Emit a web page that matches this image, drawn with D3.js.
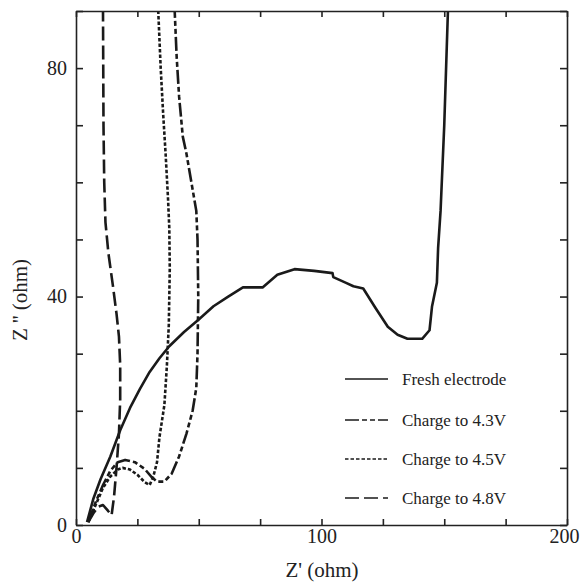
<!DOCTYPE html>
<html>
<head>
<meta charset="utf-8">
<script src="https://cdn.jsdelivr.net/npm/d3@7"></script>
</head>
<body style="margin:0;background:#fff">
<div id="chart"></div>
<script>
// dati: [Z', Z'']
var fresh = [[4.5,0.5],[7,4.5],[10,8],[14,12],[18,16.6],[22,20.5],[26,23.8],[30,26.8],[34,29.2],[38,31.3],[44,33.8],[50,36],[56,38.3],[62,40],[68,41.6],[76,41.6],[82,43.8],[89,44.8],[97,44.5],[104.5,44.1],[104.8,43.4],[110,42.4],[113,41.8],[117,41.4],[122,38],[127,34.7],[131,33.3],[135,32.6],[141,32.6],[144,34.1],[145,38.2],[147,42.4],[147.5,48.5],[148.5,55],[150,70],[151.5,90]];
var v43 = [[5,0.5],[8,4],[11,7],[14,9.5],[17,11],[20,11.4],[24,11],[28,9.8],[31,8.3],[33,7.6],[36,7.6],[39,9],[42,12],[45,16],[47.5,20],[49,24],[49.5,30],[49.8,40],[49.5,50],[49,55],[47,60],[45,65],[43.5,68],[42,75],[41,82],[40.2,90]];
var v45 = [[5,0.5],[8,3.5],[11,6.5],[14,8.5],[17,9.7],[19,10],[22,9.7],[25,8.8],[28,7.5],[30,7],[31.5,8.5],[33,11],[34,15.4],[36,21],[37,27.7],[37.8,35],[38.2,45],[38,52],[37.5,57],[36.5,65],[35.5,72],[34.5,80],[33.5,90]];
var v48 = [[5,0.5],[7,2],[9,3.2],[11,3.5],[13,2.5],[14.5,1.7],[15.5,5],[16.5,10],[17.5,16],[18,22],[18,28],[17.5,33],[16.5,37],[15,42],[13.2,47.6],[12,53],[11.5,60],[11.2,70],[11.1,80],[11,90]];
var nomi = ["Fresh electrode","Charge to 4.3V","Charge to 4.5V","Charge to 4.8V"];
var xTicks = [0,25,50,75,100,125,150,175,200];
var xLabels = [0,100,200];
var yTicks = [0,10,20,30,40,50,60,70,80,90];
var yLabels = [0,40,80];

var larghezza = 580, altezza = 583;
var sx = 76, dx = 567, alto = 11, basso = 525;
var font = "Liberation Serif";

var x = d3.scaleLinear().domain([0,200]).range([sx,dx]);
var y = d3.scaleLinear().domain([0,90]).range([basso,alto]);

var svg = d3.select("#chart").append("svg")
  .attr("width",larghezza).attr("height",altezza);

var stili = ["none","14,3,5,3,5,3","3.5,2","14,5"];
var serie = [fresh,v43,v45,v48];

var linea = d3.line().x(function(d){return x(d[0]);}).y(function(d){return y(d[1]);});

svg.append("clipPath").attr("id","clip").append("rect")
  .attr("x",sx).attr("y",alto).attr("width",dx-sx).attr("height",basso-alto);

serie.forEach(function(s,i){
  svg.append("path").datum(s)
    .attr("d",linea)
    .attr("clip-path","url(#clip)")
    .attr("fill","none")
    .attr("stroke","#1a1a1a")
    .attr("stroke-width",2.6)
    .attr("stroke-linejoin","round")
    .attr("stroke-dasharray",stili[i]);
});

// assi
var asseB = d3.axisBottom(x).tickValues(xTicks).tickSizeInner(-6).tickSizeOuter(0).tickFormat(function(d){return xLabels.indexOf(d)>=0?d:"";});
var asseT = d3.axisTop(x).tickValues(xTicks).tickSizeInner(-6).tickSizeOuter(0).tickFormat("");
var asseL = d3.axisLeft(y).tickValues(yTicks).tickSizeInner(-7).tickSizeOuter(0).tickFormat(function(d){return yLabels.indexOf(d)>=0?d:"";});
var asseR = d3.axisRight(y).tickValues(yTicks).tickSizeInner(-7).tickSizeOuter(0).tickFormat("");

var gB = svg.append("g").attr("transform","translate(0,"+basso+")").call(asseB);
var gT = svg.append("g").attr("transform","translate(0,"+alto+")").call(asseT);
var gL = svg.append("g").attr("transform","translate("+sx+",0)").call(asseL);
var gR = svg.append("g").attr("transform","translate("+dx+",0)").call(asseR);

[gB,gT,gL,gR].forEach(function(g){
  g.selectAll("path,line").attr("stroke","#222").attr("stroke-width",1.6);
  g.selectAll("text").attr("font-family",font).attr("font-size",20).attr("fill","#222");
});
gB.selectAll("text").attr("dy","0.2em").attr("y",14);
gB.selectAll("text").filter(function(d){return d===200;}).attr("dx",-3);
gL.selectAll("text").attr("x",-9);

svg.append("text").attr("x",322).attr("y",577).attr("text-anchor","middle")
  .attr("font-family",font).attr("font-size",21).attr("fill","#222").text("Z' (ohm)");
svg.append("text").attr("transform","translate(27,300) rotate(-90)").attr("text-anchor","middle")
  .attr("font-family",font).attr("font-size",21).attr("fill","#222").text("Z '' (ohm)");

// legenda
var legY = [379,420,459,498];
nomi.forEach(function(n,i){
  svg.append("line").attr("x1",345).attr("x2",388).attr("y1",legY[i]).attr("y2",legY[i])
    .attr("stroke","#1a1a1a").attr("stroke-width",1.6).attr("stroke-dasharray",stili[i]);
  svg.append("text").attr("x",402).attr("y",legY[i]+6)
    .attr("font-family",font).attr("font-size",17).attr("fill","#222").text(n);
});
</script>
</body>
</html>
